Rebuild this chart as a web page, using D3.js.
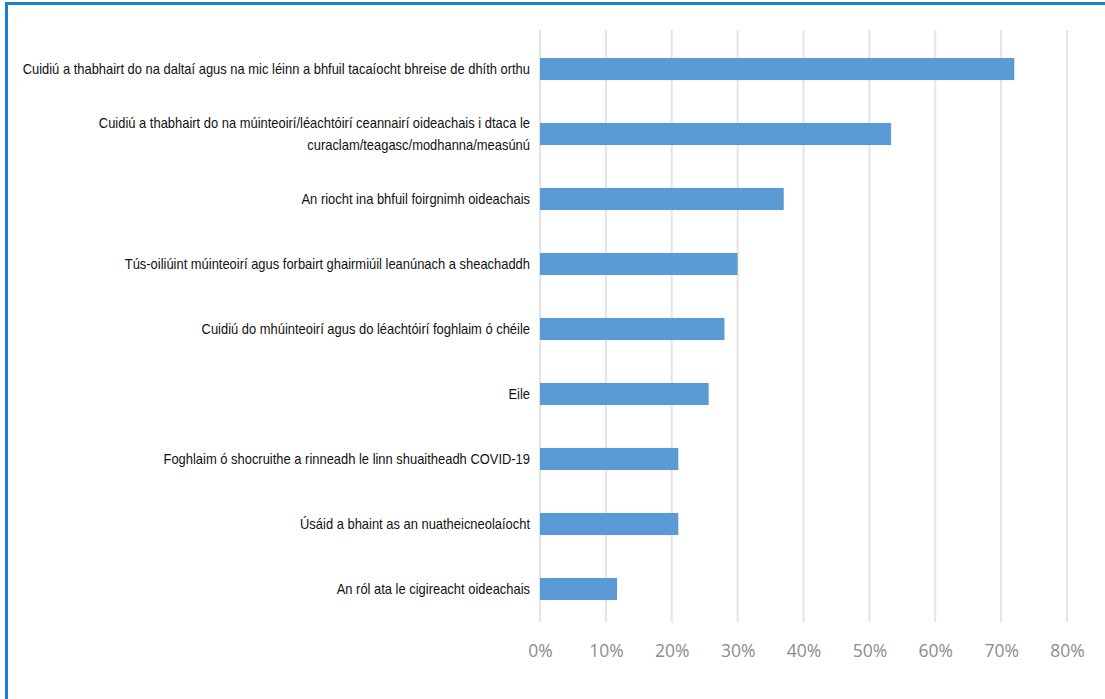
<!DOCTYPE html>
<html>
<head>
<meta charset="utf-8">
<script src="https://cdn.jsdelivr.net/npm/d3@7"></script>
<style>
  html, body { margin: 0; padding: 0; background: #fff; }
  svg { display: block; }
</style>
</head>
<body>
<svg id="chart" width="1105" height="699"></svg>
<script>
const categories = [
  ["Cuidiú a thabhairt do na daltaí agus na mic léinn a bhfuil tacaíocht bhreise de dhíth orthu"],
  ["Cuidiú a thabhairt do na múinteoirí/léachtóirí ceannairí oideachais i dtaca le", "curaclam/teagasc/modhanna/measúnú"],
  ["An riocht ina bhfuil foirgnimh oideachais"],
  ["Tús-oiliúint múinteoirí agus forbairt ghairmiúil leanúnach a sheachaddh"],
  ["Cuidiú do mhúinteoirí agus do léachtóirí foghlaim ó chéile"],
  ["Eile"],
  ["Foghlaim ó shocruithe a rinneadh le linn shuaitheadh COVID-19"],
  ["Úsáid a bhaint as an nuatheicneolaíocht"],
  ["An ról ata le cigireacht oideachais"]
];
const values = [0.72, 0.533, 0.37, 0.30, 0.28, 0.256, 0.21, 0.21, 0.117];
const tickValues = [0, 0.1, 0.2, 0.3, 0.4, 0.5, 0.6, 0.7, 0.8];
const tickLabels = ["0%", "10%", "20%", "30%", "40%", "50%", "60%", "70%", "80%"];

const svg = d3.select("#chart");

// frame (top and left edges)
svg.append("line").attr("x1", 5).attr("x2", 1105).attr("y1", 3.5).attr("y2", 3.5)
  .attr("stroke", "#1b7fd0").attr("stroke-width", 3);
svg.append("line").attr("x1", 6.5).attr("x2", 6.5).attr("y1", 2).attr("y2", 699)
  .attr("stroke", "#1b7fd0").attr("stroke-width", 3);

const x = d3.scaleLinear().domain([0, 0.8]).range([540, 1067]);
const y = d3.scaleBand().domain(d3.range(categories.length))
  .range([36.5, 621.5]).paddingInner(0.66).paddingOuter(0.33);

// gridlines
svg.append("g").selectAll("line").data(tickValues).join("line")
  .attr("x1", d => x(d)).attr("x2", d => x(d))
  .attr("y1", 30).attr("y2", 622)
  .attr("stroke", "#e4e4e4").attr("stroke-width", 2);

// x tick labels via axis
const xAxis = d3.axisBottom(x).tickValues(tickValues)
  .tickFormat((d, i) => tickLabels[i]).tickSize(0).tickPadding(0);
const gx = svg.append("g").attr("transform", "translate(0,645)").call(xAxis);
gx.select(".domain").remove();
gx.selectAll("text")
  .attr("font-family", "'Open Sans', sans-serif")
  .attr("font-size", 17.5)
  .attr("fill", "#8c8c8c");

// bars
svg.append("g").selectAll("rect").data(values).join("rect")
  .attr("x", x(0))
  .attr("y", (d, i) => y(i))
  .attr("width", d => x(d) - x(0))
  .attr("height", y.bandwidth())
  .attr("fill", "#5b9bd5");

// category labels
const lab = svg.append("g").selectAll("text").data(categories).join("text")
  .attr("text-anchor", "end")
  .attr("font-family", "'Liberation Sans', Arial, sans-serif")
  .attr("font-size", 14)
  .attr("fill", "#111")
  .attr("transform", (d, i) => `translate(530,${y(i) + y.bandwidth() / 2}) scale(0.924,1)`);
lab.each(function(lines) {
  const t = d3.select(this);
  const n = lines.length;
  lines.forEach((s, k) => {
    t.append("tspan").attr("x", 0)
      .attr("y", (k - (n - 1) / 2) * 22.5)
      .attr("dy", "0.35em")
      .text(s);
  });
});
</script>
</body>
</html>
